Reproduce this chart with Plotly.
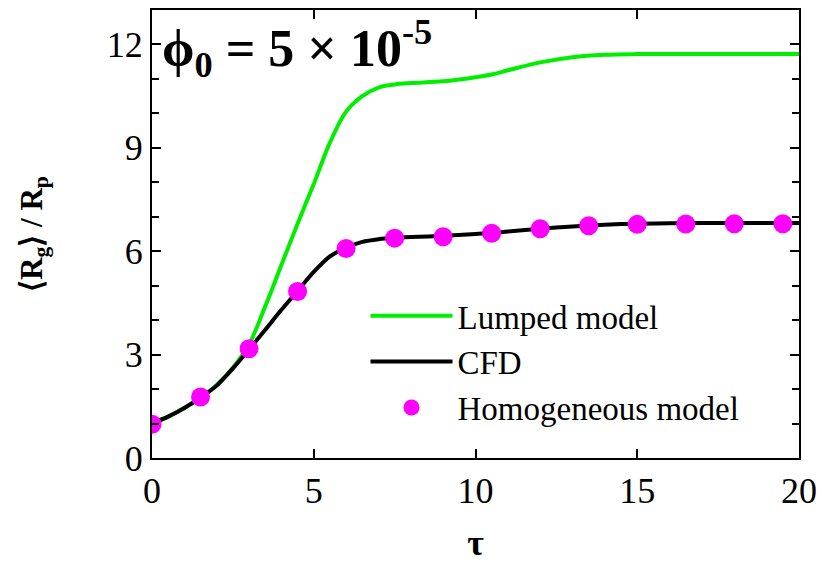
import plotly.graph_objects as go

# CFD curve
tau_cfd = [0, 0.5, 1, 1.5, 2, 2.5, 3, 3.5, 4, 4.5, 5, 5.5, 6, 6.5, 7, 7.5, 8, 9, 10, 10.5, 11, 12, 13, 14, 15, 16, 18, 20]
rg_cfd = [1.0, 1.2, 1.45, 1.75, 2.1, 2.6, 3.15, 3.72, 4.3, 4.85, 5.4, 5.85, 6.1, 6.27, 6.35, 6.39, 6.41, 6.45, 6.5, 6.53, 6.57, 6.65, 6.72, 6.77, 6.8, 6.81, 6.82, 6.82]

# Lumped model curve
tau_lump = [0, 0.5, 1, 1.5, 2, 2.5, 3, 3.5, 4, 4.5, 5, 5.5, 6, 6.5, 7, 7.5, 8, 9, 10, 10.5, 11, 12, 13, 14, 15, 17, 20]
rg_lump = [1.0, 1.2, 1.45, 1.75, 2.12, 2.62, 3.3, 4.4, 5.6, 6.8, 7.95, 9.15, 10.05, 10.5, 10.75, 10.84, 10.88, 10.93, 11.05, 11.13, 11.25, 11.48, 11.63, 11.7, 11.72, 11.72, 11.72]

# Homogeneous model points
tau_hom = [0, 1.5, 3, 4.5, 6, 7.5, 9, 10.5, 12, 13.5, 15, 16.5, 18, 19.5]
rg_hom = [0.98, 1.77, 3.17, 4.83, 6.08, 6.38, 6.42, 6.52, 6.65, 6.74, 6.78, 6.79, 6.8, 6.8]

FONT = "Liberation Serif"

fig = go.Figure()
fig.add_trace(go.Scatter(x=tau_lump, y=rg_lump, mode="lines", name="Lumped model",
                         line=dict(color="#00ee00", width=4, shape="spline", smoothing=1.0)))
fig.add_trace(go.Scatter(x=tau_cfd, y=rg_cfd, mode="lines", name="CFD",
                         line=dict(color="black", width=4, shape="spline", smoothing=0.8)))
fig.add_trace(go.Scatter(x=tau_hom, y=rg_hom, mode="markers", name="Homogeneous model",
                         marker=dict(color="#ff00ff", size=19)))

axis_common = dict(showline=True, linecolor="black", linewidth=2, mirror="ticks",
                   ticks="inside", tickcolor="black", tickwidth=2, ticklen=9,
                   showgrid=False, zeroline=False,
                   tickfont=dict(family=FONT, size=36, color="black"))

fig.update_xaxes(range=[0, 20], tickvals=[0, 5, 10, 15, 20],
                 title=dict(text="<b>τ</b>", font=dict(family=FONT, size=36, color="black"), standoff=20),
                 **axis_common)
fig.update_yaxes(range=[0, 13], tickvals=[0, 3, 6, 9, 12],
                 minor=dict(tickvals=[1, 2, 4, 5, 7, 8, 10, 11, 13], ticks="inside", ticklen=7,
                            tickwidth=2, tickcolor="black"),
                 title=dict(text="<b>⟨R<sub>g</sub>⟩ / R<sub>p</sub></b>",
                            font=dict(family=FONT, size=31, color="black"), standoff=55),
                 **axis_common)

fig.add_annotation(xref="paper", yref="paper", x=0.012, y=1.0, xanchor="left", yanchor="top",
                   text="<b>ϕ<sub>0</sub> = 5 × 10<sup>-5</sup></b>", showarrow=False,
                   font=dict(family=FONT, size=52, color="black"))

fig.update_layout(
    width=825, height=564,
    margin=dict(l=152, r=18, t=8, b=102),
    paper_bgcolor="white", plot_bgcolor="white",
    showlegend=True,
    legend=dict(x=0.33, y=0.38, xanchor="left", yanchor="top", bgcolor="rgba(0,0,0,0)",
                font=dict(family=FONT, size=33, color="black"), itemwidth=82,
                tracegroupgap=0),
)

fig.write_html("out.html")
